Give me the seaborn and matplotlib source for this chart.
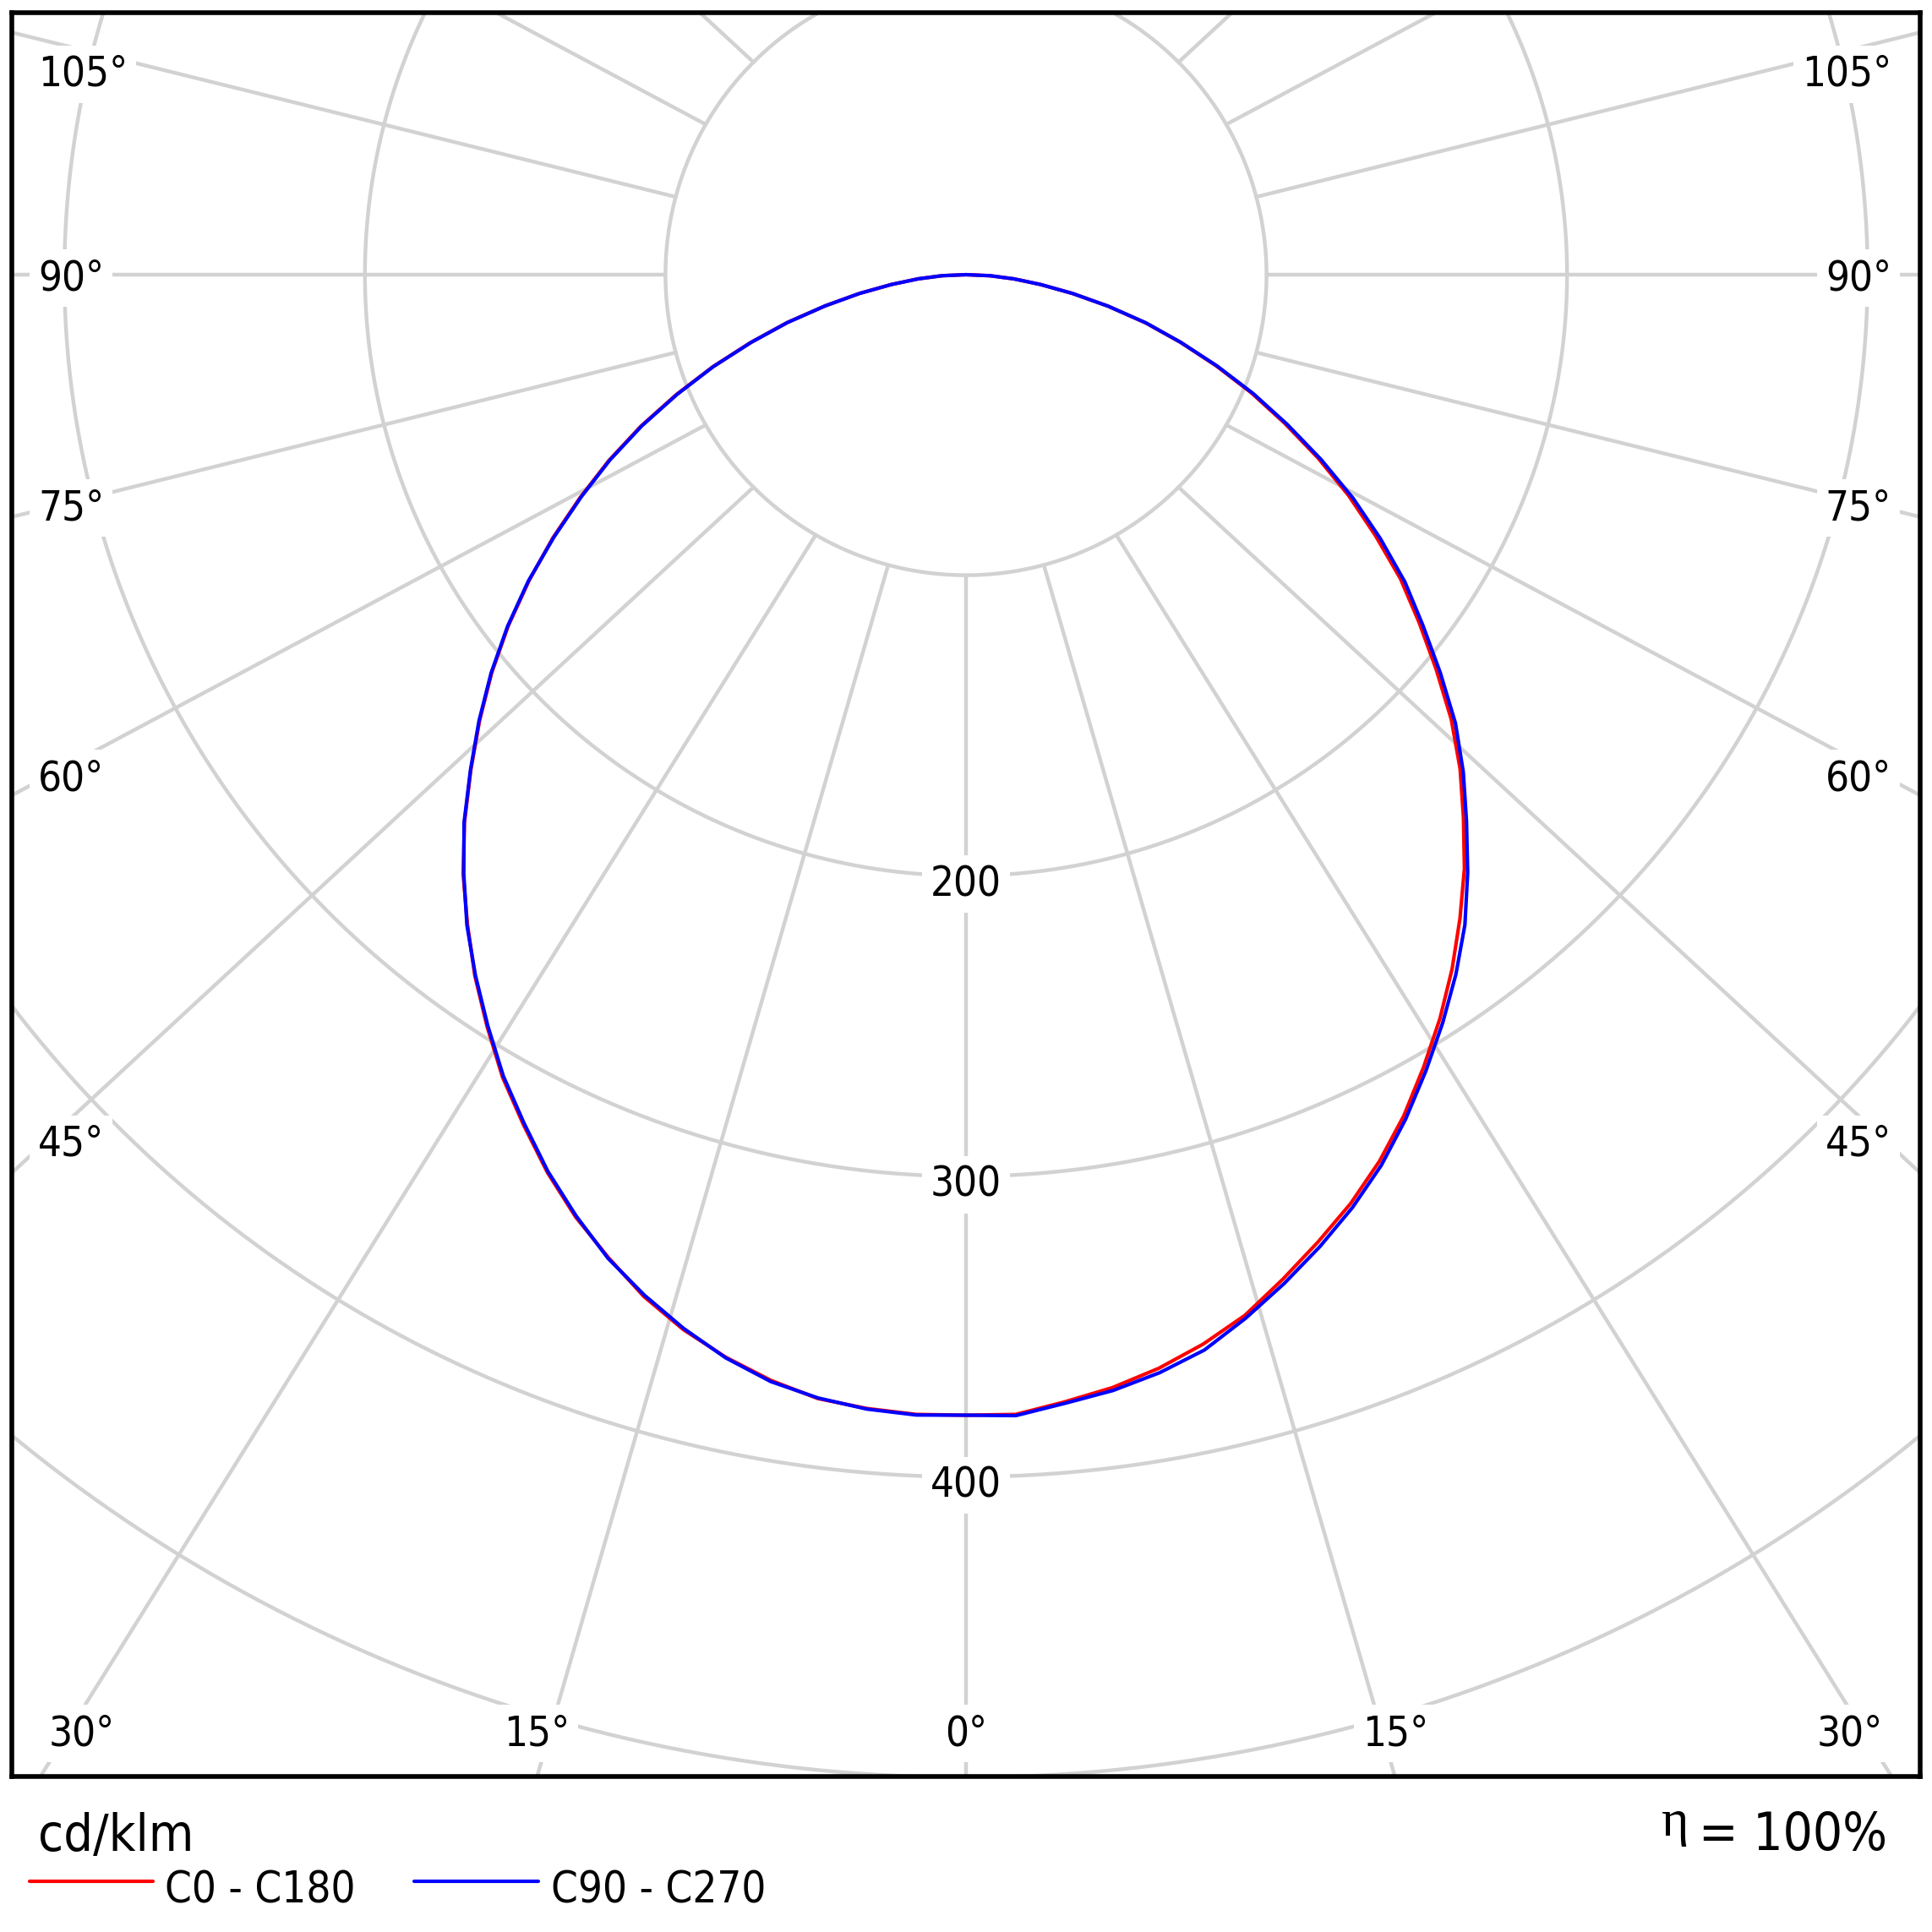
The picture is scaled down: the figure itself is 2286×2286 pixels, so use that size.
import numpy as np
import pandas as pd
import matplotlib
matplotlib.use("Agg")
import matplotlib.pyplot as plt
import seaborn as sns

# gamma angles (deg) and intensities in cd/klm
gamma = [0, 2.5, 5, 7.5, 10, 12.5, 15, 17.5, 20, 22.5, 25, 27.5, 30, 32.5, 35, 37.5,
         40, 42.5, 45, 47.5, 50, 52.5, 55, 57.5, 60, 62.5, 65, 67.5, 70, 72.5, 75,
         77.5, 80, 82.5, 85, 87.5, 90]

c180_left = [379.5, 379.6, 378.7, 377.2, 373.6, 369.0, 363.4, 356.5, 348.0, 339.4,
             329.6, 318.9, 308.4, 296.6, 284.9, 272.5, 260.3, 247.0, 233.0, 219.5,
             206.0, 192.0, 177.5, 163.0, 148.2, 134.0, 119.4, 104.4, 89.7, 75.2,
             61.6, 48.1, 36.0, 25.0, 16.0, 8.0, 0.0]
c0_right = [379.4, 379.6, 376.5, 373.5, 369.5, 364.5, 358.5, 350.5, 342.5, 334.5,
            325.5, 315.5, 304.5, 293.5, 282.0, 270.0, 258.0, 245.0, 232.5, 219.0,
            204.2, 190.0, 176.5, 161.5, 147.0, 132.0, 117.0, 102.8, 88.5, 74.8,
            61.8, 48.4, 36.0, 25.0, 16.0, 8.0, 0.0]
c270_left = [379.5, 379.8, 378.9, 377.0, 374.0, 369.2, 363.0, 356.0, 348.3, 339.0,
             329.2, 318.4, 307.9, 296.2, 284.6, 272.8, 260.0, 247.2, 233.2, 219.8,
             206.3, 192.3, 177.8, 162.6, 147.8, 133.6, 119.0, 104.0, 89.5, 75.0,
             61.5, 48.0, 36.0, 25.0, 16.0, 8.0, 0.0]
c90_right = [379.4, 380.0, 377.0, 374.5, 371.0, 366.5, 359.5, 352.0, 344.2, 336.0,
             327.0, 316.8, 306.0, 295.2, 284.2, 272.7, 259.7, 246.5, 234.0, 220.9,
             206.0, 191.6, 178.3, 163.5, 148.7, 133.2, 118.0, 103.5, 89.0, 75.0,
             62.0, 48.5, 36.0, 25.0, 16.0, 8.0, 0.0]

plane_names = ["C0 - C180", "C90 - C270"]
plane_colors = ["#ff0000", "#0000ff"]
ring_values = [100, 200, 300, 400, 500, 600]
ring_labels = [200, 300, 400]
spoke_angles = list(range(0, 360, 15))
side_angles = [45, 60, 75, 90, 105]
bottom_angles = [-30, -15, 0, 15, 30]

# layout (pixels of the 2286 px square image)
W = 2286
CX, CY = 1143, 325            # pole of the diagram
PX_PER_UNIT = 3.556           # 100 cd/klm = 355.6 px
FR_L, FR_R, FR_T, FR_B = 14.3, 2271.7, 15, 2102
STRETCH = (FR_R - FR_L) / (FR_B - FR_T)
GRID = "#d2d2d2"
# where the angle captions sit (cap-height centre, px)
SIDE_LABEL_Y = {45: 1350, 60: 917, 75: 597, 90: 325, 105: 84}
BOTTOM_LABEL_DX = {0: 0, 15: 508, 30: 1046}
BOTTOM_LABEL_Y = 2047

sns.set_style("white")
plt.rcParams["font.family"] = ["DejaVu Sans Condensed", "DejaVu Sans"]
plt.rcParams["font.stretch"] = "condensed"
plt.rcParams["text.color"] = "black"


def to_data(px, py):
    return (px - CX) / PX_PER_UNIT, (CY - py) / PX_PER_UNIT


def plane_frame(name, left, right):
    g = np.array(gamma)
    theta = np.radians(np.concatenate([-g[::-1], g[1:]]))
    r = np.concatenate([np.array(left)[::-1], np.array(right)[1:]])
    return pd.DataFrame({"x": r * np.sin(theta), "y": -r * np.cos(theta),
                         "plane": name})


df = pd.concat([plane_frame(plane_names[0], c180_left, c0_right),
                plane_frame(plane_names[1], c270_left, c90_right)],
               ignore_index=True)

fig = plt.figure(figsize=(22.86, 22.86), dpi=100)
ax = fig.add_axes([FR_L / W, 1 - FR_B / W, (FR_R - FR_L) / W, (FR_B - FR_T) / W])
x0, y1 = to_data(FR_L, FR_T)
x1, y0 = to_data(FR_R, FR_B)
ax.set_xlim(x0, x1)
ax.set_ylim(y0, y1)
ax.set_xticks([])
ax.set_yticks([])
for s in ax.spines.values():
    s.set_color("black")
    s.set_linewidth(4.0)
    s.set_zorder(10)

# rings
t = np.linspace(0, 2 * np.pi, 1441)
for rv in ring_values:
    ax.plot(rv * np.sin(t), rv * np.cos(t), color=GRID, lw=3.2, zorder=1)

# spokes from the 100 ring outwards
for a in spoke_angles:
    th = np.radians(a)
    sx, sy = 100 * np.sin(th), -100 * np.cos(th)
    dx, dy = STRETCH * np.sin(th), -np.cos(th)
    n = np.hypot(dx, dy)
    ax.plot([sx, sx + 3000 * dx / n], [sy, sy + 3000 * dy / n],
            color=GRID, lw=3.2, zorder=1)

# intensity curves
sns.lineplot(data=df, x="x", y="y", hue="plane", estimator=None, sort=False,
             palette=dict(zip(plane_names, plane_colors)), hue_order=plane_names,
             legend=False, ax=ax, lw=3.0, zorder=4)
ax.set_xlabel("")
ax.set_ylabel("")

lab_kw = dict(fontsize=35.3, color="black", zorder=5,
              bbox=dict(boxstyle="square,pad=0.2", fc="white", ec="none"))

# radial value labels
for rv in ring_labels:
    ax.text(0, -rv - 24 / PX_PER_UNIT, str(rv), ha="center", va="baseline", **lab_kw)

# side angle labels
xl, _ = to_data(45, 0)
xr, _ = to_data(2238, 0)
for a in side_angles:
    _, yd = to_data(0, SIDE_LABEL_Y[a] + 18)
    ax.text(xl, yd, f"{a}°", ha="left", va="baseline", **lab_kw)
    ax.text(xr, yd, f"{a}°", ha="right", va="baseline", **lab_kw)

# bottom angle labels
for a in bottom_angles:
    xd, yd = to_data(CX + np.sign(a) * BOTTOM_LABEL_DX[abs(a)], BOTTOM_LABEL_Y + 18)
    ax.text(xd, yd, f"{abs(a)}°", ha="center", va="baseline", **lab_kw)

# footer: unit, legend, efficiency
fig.text(45 / W, 1 - 2190 / W, "cd/klm", fontsize=44, ha="left", va="baseline")
legend_rows = [(34.7, 181, 195.4), (490, 637, 652)]
for (la, lb, tx), name, col in zip(legend_rows, plane_names, plane_colors):
    fig.add_artist(plt.Line2D([la / W, lb / W], [1 - 2226 / W] * 2, color=col,
                              lw=3.0, transform=fig.transFigure))
    fig.text(tx / W, 1 - 2251 / W, name, fontsize=36.5, ha="left", va="baseline")
fig.text(2233.5 / W, 1 - 2189 / W, "= 100%", fontsize=44.6, ha="right", va="baseline")
fig.text(1998 / W, 1 - 2172 / W, "η", fontsize=44.6, ha="right", va="baseline",
         family=["Liberation Serif", "DejaVu Serif"])

fig.savefig("out.png", dpi=100, facecolor="white")
